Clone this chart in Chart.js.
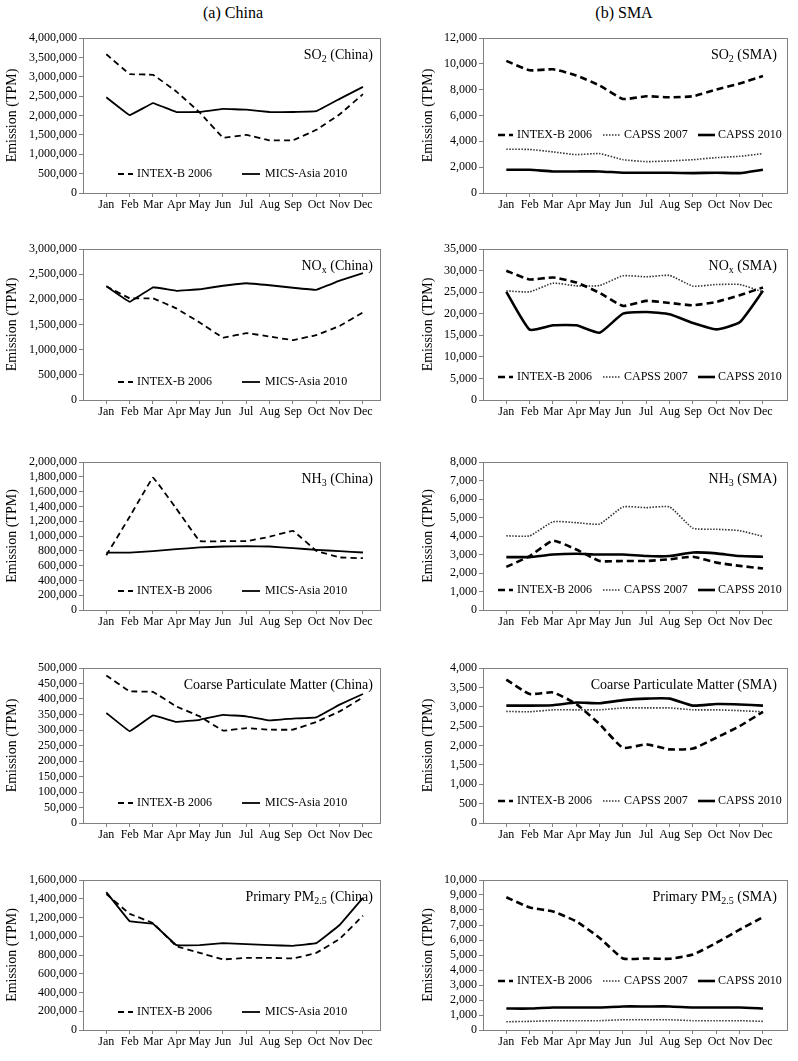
<!DOCTYPE html>
<html>
<head>
<meta charset="utf-8">
<script src="https://cdn.jsdelivr.net/npm/chart.js@4.4.0/dist/chart.umd.min.js"></script>
<style>
  body { margin: 0; background: #fff; width: 798px; height: 1061px; position: relative; overflow: hidden; font-family: "Liberation Serif", serif; }
  canvas { position: absolute; }
  .hdr { position: absolute; top: 4px; width: 200px; text-align: center; font-size: 16px; line-height: 18px; color: #000; }
</style>
</head>
<body>
<div class="hdr" style="left:133px">(a) China</div>
<div class="hdr" style="left:524px">(b) SMA</div>

<script>
const months = ['Jan', 'Feb', 'Mar', 'Apr', 'May', 'Jun', 'Jul', 'Aug', 'Sep', 'Oct', 'Nov', 'Dec'];

// SO2
const so2ChinaIntex = [3580000, 3070000, 3050000, 2620000, 2080000, 1430000, 1500000, 1360000, 1360000, 1630000, 2030000, 2550000];
const so2ChinaMics  = [2470000, 2010000, 2320000, 2090000, 2090000, 2170000, 2150000, 2090000, 2090000, 2110000, 2430000, 2740000];
const so2SmaIntex   = [10230, 9500, 9580, 9100, 8320, 7280, 7490, 7410, 7490, 8010, 8480, 9050];
const so2SmaCapss07 = [3390, 3370, 3180, 2970, 3050, 2580, 2430, 2480, 2580, 2740, 2840, 3050];
const so2SmaCapss10 = [1800, 1800, 1670, 1670, 1670, 1570, 1570, 1570, 1540, 1570, 1540, 1800];

// NOx
const noxChinaIntex = [2260000, 2020000, 2020000, 1820000, 1540000, 1240000, 1330000, 1260000, 1190000, 1290000, 1470000, 1740000];
const noxChinaMics  = [2260000, 1950000, 2240000, 2170000, 2200000, 2270000, 2320000, 2280000, 2230000, 2190000, 2370000, 2520000];
const noxSmaIntex   = [29950, 27940, 28400, 27240, 24830, 21810, 22970, 22500, 21960, 22740, 24290, 26080];
const noxSmaCapss07 = [25300, 25070, 27080, 26460, 26540, 28790, 28560, 28870, 26390, 26770, 26770, 25070];
const noxSmaCapss10 = [25070, 16300, 17310, 17310, 15600, 20020, 20410, 19870, 17850, 16370, 18000, 25300];

// NH3
const nh3ChinaIntex = [740000, 1260000, 1790000, 1370000, 930000, 930000, 930000, 990000, 1070000, 800000, 710000, 700000];
const nh3ChinaMics  = [775000, 775000, 795000, 822000, 845000, 858000, 863000, 858000, 836000, 813000, 795000, 777000];
const nh3SmaIntex   = [2330, 2915, 3745, 3270, 2650, 2650, 2650, 2740, 2880, 2560, 2385, 2245];
const nh3SmaCapss07 = [4010, 4010, 4770, 4720, 4650, 5570, 5530, 5570, 4420, 4365, 4290, 3975];
const nh3SmaCapss10 = [2860, 2860, 3000, 3040, 3000, 3000, 2915, 2915, 3110, 3060, 2915, 2880];

// Coarse particulate matter
const pmcChinaIntex = [476000, 425000, 423000, 376000, 344000, 298000, 306000, 301000, 301000, 326000, 360000, 405000];
const pmcChinaMics  = [355000, 296000, 347000, 326000, 333000, 349000, 344000, 331000, 337000, 341000, 382000, 416000];
const pmcSmaIntex   = [3700, 3330, 3370, 3070, 2550, 1940, 2030, 1900, 1920, 2200, 2500, 2870];
const pmcSmaCapss07 = [2880, 2870, 2920, 2920, 2920, 2970, 2970, 2970, 2920, 2920, 2900, 2870];
const pmcSmaCapss10 = [3030, 3030, 3040, 3110, 3090, 3170, 3210, 3210, 3030, 3070, 3060, 3030];

// Primary PM2.5
const pm25ChinaIntex = [1450000, 1240000, 1140000, 895000, 823000, 753000, 770000, 770000, 763000, 823000, 972000, 1220000];
const pm25ChinaMics  = [1470000, 1160000, 1134000, 905000, 905000, 926000, 915000, 905000, 898000, 926000, 1120000, 1410000];
const pm25SmaIntex   = [8850, 8170, 7900, 7240, 6140, 4770, 4770, 4750, 5030, 5810, 6690, 7530];
const pm25SmaCapss07 = [550, 575, 620, 620, 620, 685, 685, 685, 620, 620, 620, 575];
const pm25SmaCapss10 = [1430, 1430, 1500, 1500, 1500, 1570, 1570, 1570, 1500, 1500, 1500, 1430];

const FONT = '"Liberation Serif", "Times New Roman", serif';
Chart.defaults.font.family = FONT;
Chart.defaults.color = '#000';

// line styles
const STY = {
  intexC:  { borderDash: [6, 4], borderWidth: 1.8, borderColor: '#000' },
  mics:    { borderWidth: 1.8, borderColor: '#000' },
  intexS:  { borderDash: [7, 4], borderWidth: 2.6, borderColor: '#000' },
  capss07: { borderDash: [1.5, 1.5], borderWidth: 1.6, borderColor: '#333' },
  capss10: { borderWidth: 2.6, borderColor: '#000' }
};

const rows = [[38, 193], [249, 400], [462, 610], [668, 823], [880, 1030]];

const panels = [
  { col: 0, row: 0, yMax: 4000000, step: 500000, title: [['SO'], ['2', 1], [' (China)']], legOff: 19,
    series: [['INTEX-B 2006', so2ChinaIntex, 'intexC'], ['MICS-Asia 2010', so2ChinaMics, 'mics']] },
  { col: 1, row: 0, yMax: 12000, step: 2000, title: [['SO'], ['2', 1], [' (SMA)']], legOff: 58,
    series: [['INTEX-B 2006', so2SmaIntex, 'intexS'], ['CAPSS 2007', so2SmaCapss07, 'capss07'], ['CAPSS 2010', so2SmaCapss10, 'capss10']] },
  { col: 0, row: 1, yMax: 3000000, step: 500000, title: [['NO'], ['x', 1], [' (China)']], legOff: 18,
    series: [['INTEX-B 2006', noxChinaIntex, 'intexC'], ['MICS-Asia 2010', noxChinaMics, 'mics']] },
  { col: 1, row: 1, yMax: 35000, step: 5000, title: [['NO'], ['x', 1], [' (SMA)']], legOff: 23,
    series: [['INTEX-B 2006', noxSmaIntex, 'intexS'], ['CAPSS 2007', noxSmaCapss07, 'capss07'], ['CAPSS 2010', noxSmaCapss10, 'capss10']] },
  { col: 0, row: 2, yMax: 2000000, step: 200000, title: [['NH'], ['3', 1], [' (China)']], legOff: 19,
    series: [['INTEX-B 2006', nh3ChinaIntex, 'intexC'], ['MICS-Asia 2010', nh3ChinaMics, 'mics']] },
  { col: 1, row: 2, yMax: 8000, step: 1000, title: [['NH'], ['3', 1], [' (SMA)']], legOff: 20,
    series: [['INTEX-B 2006', nh3SmaIntex, 'intexS'], ['CAPSS 2007', nh3SmaCapss07, 'capss07'], ['CAPSS 2010', nh3SmaCapss10, 'capss10']] },
  { col: 0, row: 3, yMax: 500000, step: 50000, title: [['Coarse Particulate Matter (China)']], legOff: 20,
    series: [['INTEX-B 2006', pmcChinaIntex, 'intexC'], ['MICS-Asia 2010', pmcChinaMics, 'mics']] },
  { col: 1, row: 3, yMax: 4000, step: 500, title: [['Coarse Particulate Matter (SMA)']], legOff: 22,
    series: [['INTEX-B 2006', pmcSmaIntex, 'intexS'], ['CAPSS 2007', pmcSmaCapss07, 'capss07'], ['CAPSS 2010', pmcSmaCapss10, 'capss10']] },
  { col: 0, row: 4, yMax: 1600000, step: 200000, title: [['Primary PM'], ['2.5', 1], [' (China)']], legOff: 18,
    series: [['INTEX-B 2006', pm25ChinaIntex, 'intexC'], ['MICS-Asia 2010', pm25ChinaMics, 'mics']] },
  { col: 1, row: 4, yMax: 10000, step: 1000, title: [['Primary PM'], ['2.5', 1], [' (SMA)']], legOff: 49,
    series: [['INTEX-B 2006', pm25SmaIntex, 'intexS'], ['CAPSS 2007', pm25SmaCapss07, 'capss07'], ['CAPSS 2010', pm25SmaCapss10, 'capss10']] }
];

// legend layout relative to plot box left: [sampleStart, sampleEnd, textStart]
const legChina = [[35, 50, 54], [159, 177, 182]];
const legSma = [[15, 30, 34], [120, 138, 141], [215, 232, 235]];

function drawRich(ctx, segs, right, cy, size) {
  const fonts = segs.map(s => (s[1] ? Math.round(size * 0.68) : size) + 'px ' + FONT);
  const widths = segs.map((s, i) => { ctx.font = fonts[i]; return ctx.measureText(s[0]).width; });
  let x = right - widths.reduce((a, b) => a + b, 0);
  const base = cy + size * 0.35;
  ctx.textBaseline = 'alphabetic';
  ctx.textAlign = 'left';
  segs.forEach((s, i) => {
    ctx.font = fonts[i];
    ctx.fillText(s[0], x, s[1] ? base + 3 : base);
    x += widths[i];
  });
}

const decor = {
  id: 'decor',
  afterDraw(chart) {
    const p = chart.options.plugins.decor;
    const ctx = chart.ctx;
    const a = chart.chartArea;
    ctx.save();
    ctx.strokeStyle = '#808080';
    ctx.lineWidth = 1;
    ctx.strokeRect(Math.round(a.left) + 0.5, Math.round(a.top) + 0.5, Math.round(a.right - a.left), Math.round(a.bottom - a.top));
    ctx.fillStyle = '#000';
    // panel title
    drawRich(ctx, p.title, a.right - (p.sma ? 10 : 7), a.top + 16, 14);
    // y title
    ctx.save();
    ctx.translate(p.sma ? 28 : 12, (a.top + a.bottom) / 2);
    ctx.rotate(-Math.PI / 2);
    ctx.font = '14px ' + FONT;
    ctx.textAlign = 'center';
    ctx.textBaseline = 'middle';
    ctx.fillText('Emission (TPM)', 0, 0);
    ctx.restore();
    // legend
    const ly = a.bottom - p.legOff;
    const lay = p.sma ? legSma : legChina;
    chart.data.datasets.forEach((ds, i) => {
      const [s0, s1, t0] = lay[i];
      ctx.beginPath();
      ctx.setLineDash(ds.borderDash || []);
      ctx.lineWidth = ds.borderWidth;
      ctx.strokeStyle = ds.borderColor;
      ctx.moveTo(a.left + s0, ly);
      ctx.lineTo(a.left + s1, ly);
      ctx.stroke();
      ctx.setLineDash([]);
      ctx.font = '12px ' + FONT;
      ctx.textAlign = 'left';
      ctx.textBaseline = 'middle';
      ctx.fillStyle = '#000';
      ctx.fillText(ds.label, a.left + t0, ly);
    });
    ctx.restore();
  }
};

function makePanel(cfg) {
  const sma = cfg.col === 1;
  const [bTop, bBot] = rows[cfg.row];
  const w = sma ? 398 : 400;
  const h = (bBot - bTop) + 10 + 28;
  const cv = document.createElement('canvas');
  cv.width = w;
  cv.height = h;
  cv.style.left = (cfg.col * 400) + 'px';
  cv.style.top = (bTop - 10) + 'px';
  cv.style.width = w + 'px';
  cv.style.height = h + 'px';
  document.body.appendChild(cv);

  new Chart(cv.getContext('2d'), {
    type: 'line',
    data: {
      datasets: cfg.series.map(([label, vals, st]) => Object.assign({
        label: label,
        data: vals.map((v, i) => ({ x: i, y: v })),
        pointRadius: 0,
        fill: false,
        tension: sma ? 0.15 : 0.04
      }, STY[st]))
    },
    options: {
      responsive: false,
      animation: false,
      devicePixelRatio: 1,
      layout: { padding: { top: 10, right: sma ? 11 : 20, left: 0, bottom: 0 } },
      plugins: {
        legend: { display: false },
        tooltip: { enabled: false },
        decor: { title: cfg.title, legOff: cfg.legOff, sma: sma }
      },
      scales: {
        x: {
          type: 'linear',
          min: -1,
          max: sma ? 12.03 : 11.73,
          afterBuildTicks: s => { s.ticks = months.map((m, i) => ({ value: i })); },
          afterFit: s => { s.height = 28; },
          ticks: {
            autoSkip: false,
            maxRotation: 0,
            padding: 1,
            font: { size: 12, family: FONT },
            color: '#000',
            callback: v => months[v] || ''
          },
          grid: { display: true, drawOnChartArea: false, tickLength: 4, color: '#808080' },
          border: { display: false }
        },
        y: {
          min: 0,
          max: cfg.yMax,
          afterFit: s => { s.width = 83; },
          ticks: {
            stepSize: cfg.step,
            autoSkip: false,
            padding: 2,
            font: { size: 12, family: FONT },
            color: '#000',
            callback: v => v.toLocaleString('en-US')
          },
          grid: { display: true, drawOnChartArea: false, tickLength: 4, color: '#808080' },
          border: { display: false }
        }
      }
    },
    plugins: [decor]
  });
}

panels.forEach(makePanel);
</script>
</body>
</html>
